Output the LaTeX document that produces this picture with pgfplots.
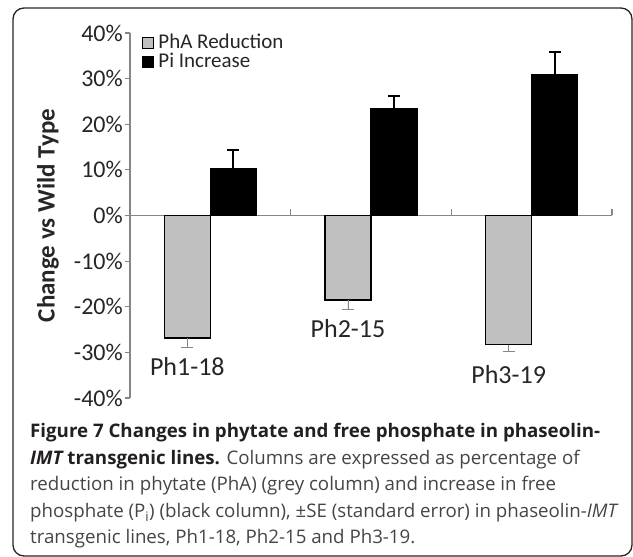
\documentclass[border=0pt]{standalone}
\usepackage{fontspec}
\usepackage{pgfplots}
\pgfplotsset{compat=1.18}
\newfontfamily\chartfont{Carlito}
\newfontfamily\capfont{Open Sans}
\definecolor{barGrey}{HTML}{C0C0C0}
\definecolor{axisGrey}{HTML}{868686}
\definecolor{txtDark}{HTML}{262626}
\definecolor{capGrey}{HTML}{454545}
\definecolor{capDark}{HTML}{231F20}
\newcommand\capsize{\fontsize{18.7}{26}\selectfont}

\begin{document}
\begin{tikzpicture}
\path[use as bounding box] (0pt,0pt) rectangle (633pt,557pt);
\draw[line width=1.3pt, rounded corners=11pt, black!85] (13pt,1pt) rectangle (632pt,549pt);

\begin{axis}[
    at={(130pt,159pt)}, anchor=south west,
    scale only axis, width=482pt, height=365pt,
    xmin=0, xmax=3, ymin=-40, ymax=40,
    axis x line=none, axis y line*=left,
    ybar=0pt, bar width=46pt,
    xtick=\empty,
    ytick={-40,-30,...,40},
    yticklabels={-40\%,-30\%,-20\%,-10\%,0\%,10\%,20\%,30\%,40\%},
    yticklabel style={font=\fontsize{24}{26}\chartfont, text=txtDark, inner xsep=2pt},
    ytick align=outside, major tick length=5pt,
    y axis line style={axisGrey, line width=1.2pt},
    ytick style={axisGrey, line width=1.2pt},
    ylabel={Change vs Wild Type},
    ylabel style={font=\fontsize{25}{27}\chartfont\bfseries, text=txtDark,
                  at={(axis description cs:-0.170,0.5)}, anchor=center},
    legend style={at={(rel axis cs:0.025,0.993)}, anchor=north west, draw=none, fill=none,
                  row sep=2pt, inner sep=0pt,
                  nodes={font=\fontsize{21}{22}\chartfont, text=txtDark, inner xsep=4pt,
                         inner ysep=0pt, text height=13pt, text depth=4pt}},
    legend cell align=left,
    legsq/.style={legend image code/.code={\draw[##1, line width=1.2pt] (0pt,-4.5pt) rectangle (11pt,6.5pt);}},
    clip=false,
]

% x axis at 0 with category separators
\draw[axisGrey, line width=1.2pt] (axis cs:0,0) -- (axis cs:3,0);
\draw[axisGrey, line width=1.2pt] (axis cs:1,0) -- ([yshift=6pt]axis cs:1,0);
\draw[axisGrey, line width=1.2pt] (axis cs:2,0) -- ([yshift=6pt]axis cs:2,0);
\draw[axisGrey, line width=1.2pt] (axis cs:3,0) -- ([yshift=6pt]axis cs:3,0);

% PhA reduction
\addplot[fill=barGrey, draw=black, line width=1.6pt, legsq,
    error bars/.cd, y dir=minus, y explicit,
    error bar style={axisGrey, line width=0.8pt},
    error mark options={rotate=90, axisGrey, mark size=6pt, line width=0.8pt}]
coordinates {
    (0.5,-26.8) +- (0,2.1)
    (1.5,-18.5) +- (0,2.1)
    (2.5,-28.3) +- (0,1.5)
};

% Pi increase
\addplot[fill=black, draw=black, line width=1.6pt, legsq,
    error bars/.cd, y dir=plus, y explicit,
    error bar style={black, line width=2pt},
    error mark options={rotate=90, black, mark size=6pt, line width=2pt}]
coordinates {
    (0.5,10.2) +- (0,4.1)
    (1.5,23.3) +- (0,2.9)
    (2.5,30.8) +- (0,5.1)
};

\legend{PhA Reduction, Pi Increase}

\node[font=\fontsize{26}{28}\chartfont, text=txtDark, xshift=-23pt] at (axis cs:0.5,-33.1) {Ph1-18};
\node[font=\fontsize{26}{28}\chartfont, text=txtDark, xshift=-23pt] at (axis cs:1.5,-24.8) {Ph2-15};
\node[font=\fontsize{26}{28}\chartfont, text=txtDark, xshift=-23pt] at (axis cs:2.5,-34.8) {Ph3-19};
\end{axis}

% caption
\node[anchor=base west, inner sep=0pt, font=\capsize\capfont\bfseries, text=capDark] at (30pt,119pt)
    {Figure 7 Changes in phytate and free phosphate in phaseolin-};
\node[anchor=base west, inner sep=0pt, font=\capsize\capfont, text=capGrey] at (30pt,92.5pt)
    {\textcolor{capDark}{\bfseries\itshape IMT \upshape transgenic lines.} Columns are expressed as percentage of};
\node[anchor=base west, inner sep=0pt, font=\capsize\capfont, text=capGrey] at (30pt,66pt)
    {reduction in phytate (PhA) (grey column) and increase in free};
\node[anchor=base west, inner sep=0pt, font=\capsize\capfont, text=capGrey] at (30pt,39.5pt)
    {phosphate (P\textsubscript{i}) (black column), ±SE (standard error) in phaseolin-\textit{IMT}};
\node[anchor=base west, inner sep=0pt, font=\capsize\capfont, text=capGrey] at (30pt,13pt)
    {transgenic lines, Ph1-18, Ph2-15 and Ph3-19.};
\end{tikzpicture}
\end{document}
